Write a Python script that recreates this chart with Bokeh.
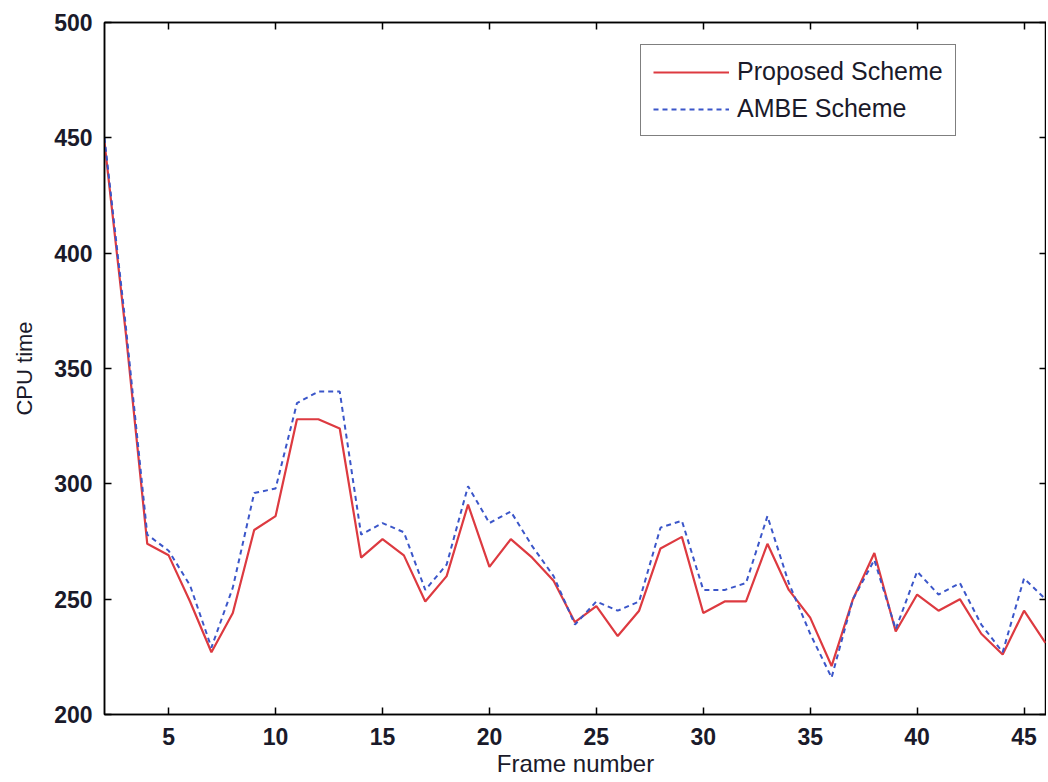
from bokeh.plotting import figure
from bokeh.models import LinearAxis, Legend, LegendItem, Range1d, FixedTicker
from bokeh.embed import file_html
from bokeh.resources import INLINE

frames = list(range(2, 47))
proposed = [448, 365, 274, 269, 249, 227, 244, 280, 286, 328, 328, 324, 268, 276, 269,
            249, 260, 291, 264, 276, 268, 258, 240, 247, 234, 245, 272, 277, 244, 249,
            249, 274, 254, 242, 221, 250, 270, 236, 252, 245, 250, 235, 226, 245, 231]
ambe = [450, 368, 278, 271, 256, 229, 255, 296, 298, 335, 340, 340, 278, 283, 279,
        254, 265, 299, 283, 288, 273, 260, 239, 249, 245, 249, 281, 284, 254, 254,
        257, 286, 257, 235, 216, 250, 267, 237, 262, 252, 257, 239, 227, 259, 250]
x_ticks = [5, 10, 15, 20, 25, 30, 35, 40, 45]
y_ticks = [200, 250, 300, 350, 400, 450, 500]

FONT = "Liberation Sans"

p = figure(width=1046, height=782, output_backend="svg", toolbar_location=None,
           x_range=Range1d(2, 46.05), y_range=Range1d(200, 500),
           min_border_left=104, min_border_right=0, min_border_top=22, min_border_bottom=68)
p.grid.visible = False
p.outline_line_color = "black"
p.outline_line_width = 1.5
p.background_fill_color = "white"
p.border_fill_color = "white"

def style_axis(ax, show_labels=True):
    ax.axis_line_color = "black"
    ax.axis_line_width = 1.5
    ax.major_tick_in = 7
    ax.major_tick_out = 0
    ax.minor_tick_in = 0
    ax.minor_tick_out = 0
    ax.major_tick_line_color = "black"
    ax.major_tick_line_width = 1.5
    ax.major_label_text_font = FONT
    ax.major_label_text_font_size = "23px"
    ax.major_label_text_font_style = "bold"
    ax.major_label_text_color = "#1a1a2a"
    if not show_labels:
        ax.major_label_text_alpha = 0
        ax.major_label_text_font_size = "1px"
        ax.major_label_standoff = 0

p.xaxis.ticker = FixedTicker(ticks=x_ticks)
p.yaxis.ticker = FixedTicker(ticks=y_ticks)
style_axis(p.xaxis[0])
style_axis(p.yaxis[0])
p.xaxis.major_label_standoff = 13
p.yaxis.major_label_standoff = 12

p.xaxis.axis_label = "Frame number"
p.yaxis.axis_label = "CPU time"
for ax in (p.xaxis[0], p.yaxis[0]):
    ax.axis_label_text_font = FONT
    ax.axis_label_text_font_style = "normal"
    ax.axis_label_text_color = "#1a1a2a"
p.xaxis.axis_label_text_font_size = "24px"
p.yaxis.axis_label_text_font_size = "22px"
p.xaxis.axis_label_standoff = 2
p.yaxis.axis_label_standoff = 14

top = LinearAxis(ticker=FixedTicker(ticks=x_ticks))
right = LinearAxis(ticker=FixedTicker(ticks=y_ticks))
style_axis(top, False)
style_axis(right, False)
p.add_layout(top, "above")
p.add_layout(right, "right")

r1 = p.line(frames, proposed, line_color="#dd3a40", line_width=2.2)
r2 = p.line(frames, ambe, line_color="#3b56c9", line_width=2.0, line_dash="5 4")

legend = Legend(items=[LegendItem(label="Proposed Scheme", renderers=[r1]),
                       LegendItem(label="AMBE Scheme", renderers=[r2])],
                location=(536, 578))
legend.label_text_font = FONT
legend.label_text_font_size = "25px"
legend.label_text_color = "#1a1a2a"
legend.glyph_width = 76
legend.glyph_height = 28
legend.label_height = 28
legend.label_standoff = 8
legend.spacing = 8
legend.padding = 12
legend.margin = 0
legend.border_line_color = "black"
legend.border_line_width = 1.5
legend.background_fill_alpha = 1
p.add_layout(legend, "center")

open("out.html", "w").write(file_html(p, INLINE))
